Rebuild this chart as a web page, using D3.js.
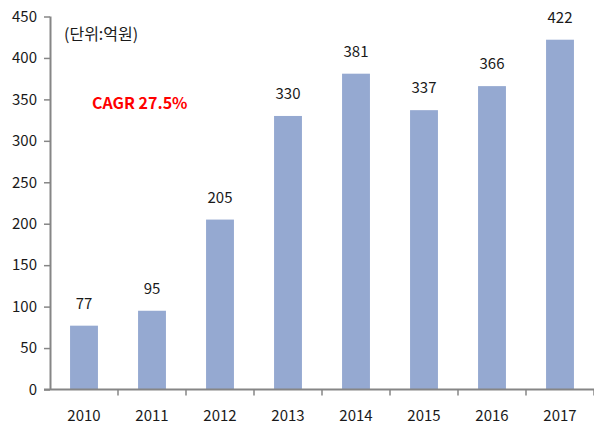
<!DOCTYPE html>
<html>
<head>
<meta charset="utf-8">
<script src="https://cdn.jsdelivr.net/npm/d3@7"></script>
<style>
  body { margin: 0; background: #fff; }
  text { font-family: "Noto Sans CJK KR", "Noto Sans", sans-serif; fill: #1a1a1a; }
</style>
</head>
<body>
<div id="chart"></div>
<script>
const years = ['2010', '2011', '2012', '2013', '2014', '2015', '2016', '2017']
const values = [77, 95, 205, 330, 381, 337, 366, 422]
const yTicks = [0, 50, 100, 150, 200, 250, 300, 350, 400, 450]

const width = 594
const height = 426
const margin = {top: 16.5, right: 0, bottom: 36.5, left: 50}

const svg = d3.select('#chart')
  .append('svg')
  .attr('width', width)
  .attr('height', height)

const x = d3.scaleBand()
  .domain(years)
  .range([margin.left, width - margin.right])
  .paddingInner(0.59)
  .paddingOuter(0.295)

const y = d3.scaleLinear()
  .domain([0, 450])
  .range([height - margin.bottom, margin.top])

const axisColor = '#868686'

// bars
svg.append('g')
  .selectAll('rect')
  .data(values)
  .enter()
  .append('rect')
  .attr('x', (d, i) => x(years[i]))
  .attr('y', (d) => y(d))
  .attr('width', x.bandwidth())
  .attr('height', (d) => y(0) - y(d))
  .attr('fill', '#95a9d1')

// value labels
svg.append('g')
  .selectAll('text')
  .data(values)
  .enter()
  .append('text')
  .attr('x', (d, i) => x(years[i]) + x.bandwidth() / 2)
  .attr('y', (d) => y(d) - 17)
  .attr('text-anchor', 'middle')
  .style('font-size', '15px')
  .text((d) => d)

// y axis
const yAxis = svg.append('g')
  .attr('transform', `translate(${margin.left},0)`)
  .call(d3.axisLeft(y).tickValues(yTicks).tickSize(6).tickPadding(7))
yAxis.selectAll('.domain').attr('stroke', axisColor).attr('stroke-width', 2)
  .attr('d', `M0.5,${y(450)}V${y(0)}`)
yAxis.selectAll('.tick line').attr('stroke', axisColor).attr('stroke-width', 1.5)
yAxis.selectAll('.tick text').style('font-size', '15px').attr('fill', '#1a1a1a')
  .style('font-family', '"Noto Sans CJK KR", "Noto Sans", sans-serif')

// x axis: line plus ticks between categories
const xg = svg.append('g').attr('transform', `translate(0,${y(0)})`)
xg.append('line')
  .attr('x1', margin.left - 6)
  .attr('x2', width)
  .attr('stroke', axisColor)
  .attr('stroke-width', 2)
const step = x.step()
xg.selectAll('.sep')
  .data(years)
  .enter()
  .append('line')
  .attr('x1', (d) => x(d) - x.paddingOuter() * step + step)
  .attr('x2', (d) => x(d) - x.paddingOuter() * step + step)
  .attr('y1', 0)
  .attr('y2', 6)
  .attr('stroke', axisColor)
  .attr('stroke-width', 1.5)
xg.selectAll('.lbl')
  .data(years)
  .enter()
  .append('text')
  .attr('x', (d) => x(d) + x.bandwidth() / 2)
  .attr('y', 31)
  .attr('text-anchor', 'middle')
  .style('font-size', '15px')
  .text((d) => d)

// annotations
svg.append('text')
  .attr('x', 64)
  .attr('y', 40)
  .style('font-size', '16px')
  .text('(단위:억원)')

svg.append('text')
  .attr('x', 92)
  .attr('y', 109)
  .style('font-size', '16px')
  .style('font-weight', 'bold')
  .style('fill', '#ff0000')
  .text('CAGR 27.5%')
</script>
</body>
</html>
